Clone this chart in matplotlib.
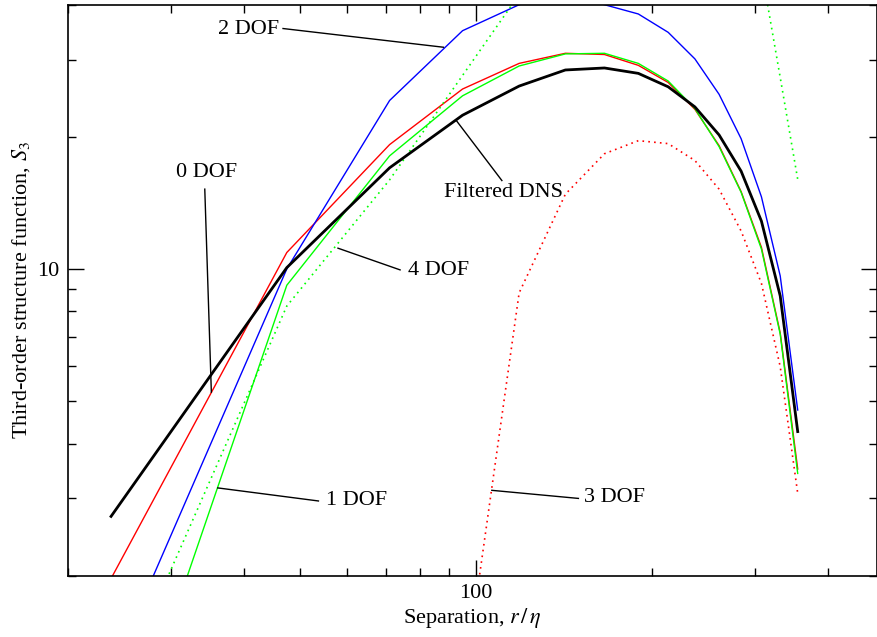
import numpy as np
import matplotlib
matplotlib.use("Agg")
import matplotlib.pyplot as plt
from matplotlib.ticker import LogLocator, NullFormatter, FuncFormatter

plt.rcParams['font.family'] = ['Liberation Serif', 'DejaVu Serif']
plt.rcParams['mathtext.fontset'] = 'stix'
plt.rcParams['font.size'] = 16

# separation r/eta at which S3 was computed
sep = [23.7, 47.4, 71.1, 94.8, 118.5, 142.2, 165.9, 189.6, 213.3, 237.0,
       260.7, 284.4, 308.1, 331.8, 355.5]

# third-order structure function
dns = [2.73, 10.07, 17.0, 22.4, 26.1, 28.4, 28.7, 27.9, 26.0, 23.4,
       20.2, 16.7, 12.85, 8.68, 4.26]
dof0 = [1.97, 10.9, 19.2, 25.7, 29.4, 31.0, 30.8, 29.1, 26.6, 23.1,
        19.1, 15.0, 11.2, 7.15, 3.50]
dof1 = [0.62, 9.18, 18.1, 24.8, 29.0, 30.9, 31.0, 29.4, 26.8, 23.2,
        19.0, 14.95, 11.1, 7.1, 3.42]
dof2 = [1.2, 10.0, 24.2, 34.9, 40.0, 42.5, 40.0, 38.1, 34.6, 30.1,
        25.0, 19.8, 14.6, 9.64, 4.77]
dof3 = [np.nan, np.nan, np.nan, 1.06, 8.82, 14.8, 18.3, 19.6, 19.3, 17.66,
        15.2, 12.2, 9.27, 5.99, 3.08]
dof4 = [1.01, 8.23, 15.96, 27.6, 42.2, 52.0, 58.0, 60.0, 60.0, 58.0,
        55.0, 51.0, 48.2, 27.3, 16.0]

# labels: text, text pos, leader line start, leader line end, alignment
notes = [
    ("2 DOF", (46.0, 35.2), (46.7, 35.3), (87.9, 32.0), 'right'),
    ("0 DOF", (34.5, 16.6), (34.3, 15.2), (35.2, 5.24), 'center'),
    ("Filtered DNS", (111.2, 14.96), (92.7, 21.7), (110.7, 15.9), 'center'),
    ("4 DOF", (76.5, 9.9), (58.0, 11.15), (74.1, 9.95), 'left'),
    ("1 DOF", (55.4, 2.97), (36.1, 3.17), (53.7, 2.96), 'left'),
    ("3 DOF", (153.1, 3.02), (106.4, 3.13), (149.7, 3.0), 'left'),
]

fig = plt.figure(figsize=(8.78, 6.37), dpi=100)
ax = fig.add_axes([68/878, 61.3/637, 809/878, 571/637])

dot = (0, (1, 2.5))
ax.plot(sep, dof0, color='#ff0000', lw=1.0)
ax.plot(sep, dof2, color='#0000ff', lw=1.0)
ax.plot(sep, dof1, color='#00ff00', lw=1.0)
ax.plot(sep, dof3, color='#ff0000', lw=1.2, ls=dot)
ax.plot(sep, dof4, color='#00ff00', lw=1.2, ls=dot)
ax.plot(sep, dns, color='black', lw=2.0)

for txt, tpos, p1, p2, ha in notes:
    ax.plot([p1[0], p2[0]], [p1[1], p2[1]], color='black', lw=1.0)
    va = 'center'
    if ha == 'center':
        va = 'center'
    ax.text(tpos[0], tpos[1], txt, ha=ha, va=va, fontsize=16)

ax.set_xscale('log')
ax.set_yscale('log')
ax.set_xlim(20, 486)
ax.set_ylim(2, 40)

for axis in (ax.xaxis, ax.yaxis):
    axis.set_major_locator(LogLocator(base=10))
    axis.set_minor_locator(LogLocator(base=10, subs=np.arange(2, 10)))
    axis.set_minor_formatter(NullFormatter())
    axis.set_major_formatter(FuncFormatter(lambda v, p: "%d" % v))

ax.tick_params(which='both', direction='in', top=True, right=True, width=1.0)
ax.tick_params(which='major', length=11.5, pad=6, labelsize=16)
ax.tick_params(which='minor', length=5.8)
for s in ax.spines.values():
    s.set_linewidth(1.2)

ax.set_xlabel(r"Separation, $r\,/\,\eta$", fontsize=16, labelpad=2)
ax.set_ylabel(r"Third-order structure function, $S_3$", fontsize=16, labelpad=4)

fig.savefig("out.png", dpi=100)
